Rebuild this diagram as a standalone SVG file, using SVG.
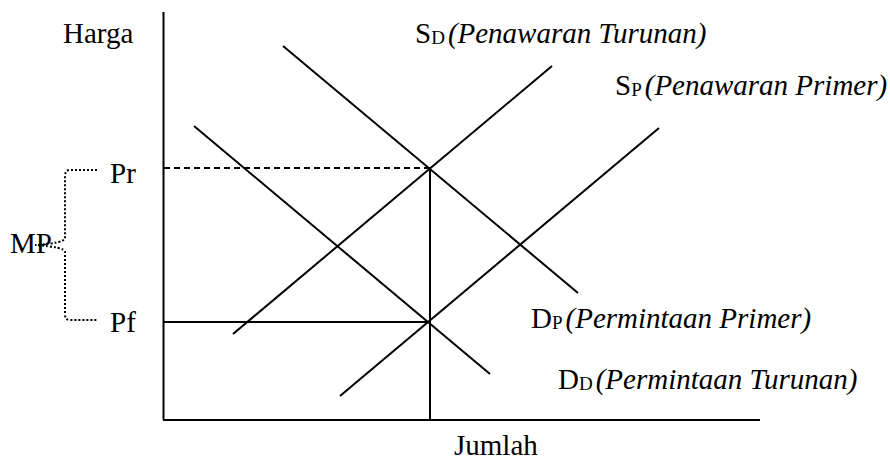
<svg xmlns="http://www.w3.org/2000/svg" width="890" height="461" viewBox="0 0 890 461">
<style>
text{font-family:"Liberation Serif","Times New Roman",serif;font-size:29px;fill:#000}
.it{font-style:italic}
.sub{font-size:19px}
.ln{stroke:#000;stroke-width:2;fill:none}
.dash{stroke:#000;stroke-width:2;stroke-dasharray:6 4;fill:none}
.dot{stroke:#000;stroke-width:2;stroke-dasharray:2 2;fill:none}
</style>
<rect width="890" height="461" fill="#fff"/>
<g id="axes">
<line class="ln" x1="163.5" y1="12" x2="163.5" y2="420"/>
<line class="ln" x1="163" y1="420" x2="760" y2="420"/>
</g>
<g id="connectors">
<line class="ln" x1="283" y1="46" x2="578" y2="293"/>
<line class="ln" x1="194" y1="126" x2="490" y2="374"/>
<line class="ln" x1="233" y1="334" x2="552" y2="66"/>
<line class="ln" x1="340" y1="396" x2="659" y2="128"/>
<line class="ln" x1="430" y1="168" x2="430" y2="420"/>
<line class="dash" x1="164" y1="168" x2="430" y2="168"/>
<line class="ln" x1="164" y1="322" x2="430" y2="322"/>
<path class="dot" d="M97,170 L70,170 Q65,170 65,176 L65,238 Q65,243 35,245 Q65,247 65,252 L65,314 Q65,320 70,320 L97,320"/>
</g>
<g id="labels">
<text id="harga" x="63" y="43">Harga</text>
<text id="jumlah" x="454" y="455">Jumlah</text>
<text id="pr" x="110" y="183">Pr</text>
<text id="pf" x="110" y="332">Pf</text>
<text id="mp" x="10" y="253">MP</text>
<text id="sd" x="415" y="43">S<tspan class="sub" dy="1">D</tspan><tspan class="it" dx="3" dy="-1">(Penawaran Turunan)</tspan></text>
<text id="sp" x="615" y="95">S<tspan class="sub" dy="1">P</tspan><tspan class="it" dx="3" dy="-1">(Penawaran Primer)</tspan></text>
<text id="dp" x="531" y="328">D<tspan class="sub" dy="1">P</tspan><tspan class="it" dx="3" dy="-1">(Permintaan Primer)</tspan></text>
<text id="dd" x="558" y="389">D<tspan class="sub" dy="1">D</tspan><tspan class="it" dx="3" dy="-1">(Permintaan Turunan)</tspan></text>
</g>
</svg>
